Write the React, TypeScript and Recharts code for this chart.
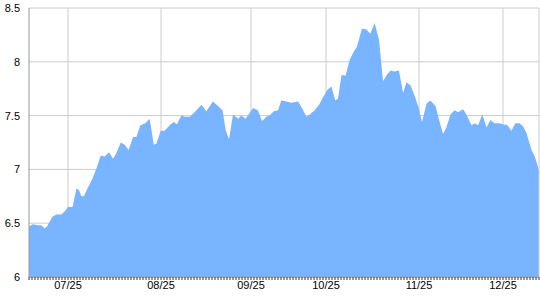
import { AreaChart, Area, XAxis, YAxis, CartesianGrid } from "recharts";

// day offset from the first sample (one minor tick per day)
const days = [
  0, 1.3, 3, 4.1, 5.2, 6, 7.8, 9.1, 10.8, 11.9, 13, 14.5, 15.8, 16.6, 17.5, 18.3, 19.3, 21.1, 22.5, 23.9,
  25.2, 26.7, 28, 29.1, 30.6, 31.9, 33.2, 34.7, 35.8, 37.1, 38.8, 40.2, 41.6, 42.5, 43.9, 45.2, 46.9, 48.2, 49.3, 50.8,
  51.9, 53.6, 55.2, 57.5, 59.1, 61.3, 63, 64.5, 65.6, 66.7, 68, 69.7, 70.8, 72.2, 74.7, 76.3, 77.7, 79.1, 80.2, 81.6,
  83, 84.1, 85.8, 87.5, 89.7, 90.8, 92.5, 93.6, 95.2, 96.7, 98.2, 99.5, 100.8, 102.1, 103, 104.2, 105.5, 106.9, 108.2, 109.3,
  111, 112.5, 113.8, 115.2, 116.7, 118, 119.3, 120.5, 121.9, 123.3, 124.7, 125.8, 127.2, 128.6, 129.9, 131, 132.5, 133.8, 135.5, 136.7,
  138, 139.1, 140.5, 141.9, 143, 144.7, 145.8, 147.5, 148.6, 149.7, 151.1, 152.5, 153.8, 155.2, 156.7, 158, 159.5, 160.8, 162.1, 163.5,
  164.7, 165.8, 167.5, 168.6, 170,
];

const prices = [
  6.47, 6.49, 6.48, 6.48, 6.45, 6.47, 6.56, 6.58, 6.58, 6.61, 6.65, 6.65, 6.82, 6.81, 6.75, 6.75, 6.81, 6.91, 7.01, 7.13,
  7.12, 7.16, 7.1, 7.15, 7.25, 7.23, 7.18, 7.3, 7.3, 7.41, 7.43, 7.47, 7.23, 7.24, 7.36, 7.36, 7.41, 7.44, 7.42, 7.5,
  7.49, 7.49, 7.53, 7.6, 7.54, 7.63, 7.59, 7.55, 7.36, 7.28, 7.51, 7.47, 7.5, 7.47, 7.57, 7.55, 7.45, 7.49, 7.5, 7.54,
  7.55, 7.64, 7.63, 7.62, 7.63, 7.58, 7.49, 7.51, 7.55, 7.6, 7.68, 7.74, 7.77, 7.64, 7.66, 7.88, 7.87, 8.02, 8.09, 8.14,
  8.31, 8.3, 8.26, 8.36, 8.2, 7.82, 7.88, 7.92, 7.91, 7.92, 7.71, 7.81, 7.78, 7.68, 7.57, 7.44, 7.61, 7.64, 7.59, 7.46,
  7.33, 7.39, 7.51, 7.55, 7.53, 7.56, 7.51, 7.41, 7.43, 7.41, 7.51, 7.39, 7.46, 7.43, 7.43, 7.42, 7.41, 7.36, 7.43, 7.43,
  7.4, 7.34, 7.18, 7.12, 6.99,
];

const labelDays = [13, 44, 74, 99, 130, 158];
const labels = ["07/25", "08/25", "09/25", "10/25", "11/25", "12/25"];
const yTicks = [6, 6.5, 7, 7.5, 8, 8.5];
const minorTicks = Array.from({ length: 171 }, (_, i) => i);

const data = days.map((day, i) => ({ day, price: prices[i] }));

const fontFamily = "'Liberation Sans', Arial, sans-serif";
const font = { fontSize: 11, fill: "#000", fontFamily };

// every day gets a small tick, only the 25th of each month gets a label
const DayTick = (props: any) => {
  const { x, y, payload } = props;
  const idx = labelDays.indexOf(payload.value);
  return (
    <g>
      <line x1={x} y1={y} x2={x} y2={y + 3} stroke="#333" />
      {idx >= 0 && (
        <text x={x} y={y + 4} dy="0.71em" textAnchor="middle" fontSize={11} fill="#000" fontFamily={fontFamily}>
          {labels[idx]}
        </text>
      )}
    </g>
  );
};

const gridX = ({ xAxis, offset }: any) =>
  labelDays.map((d) =>
    xAxis && typeof xAxis.scale === "function" ? xAxis.scale(d) : offset.left + (d / 170) * offset.width
  );

const App = () => {
  return (
    <div style={{ position: "absolute", left: 0, top: 0 }}>
      <AreaChart width={540} height={300} data={data} margin={{ top: 8, right: 0, bottom: 0, left: 0 }}>
        <CartesianGrid stroke="#cccccc" verticalCoordinatesGenerator={gridX} />
        <XAxis
          dataKey="day"
          type="number"
          domain={[0, 170]}
          ticks={minorTicks}
          interval={0}
          height={23}
          tickSize={0}
          tickMargin={0}
          tickLine={false}
          axisLine={{ stroke: "#999" }}
          tick={<DayTick />}
        />
        <YAxis
          domain={[6, 8.5]}
          ticks={yTicks}
          interval={0}
          width={29}
          tickLine={false}
          tickMargin={3}
          axisLine={{ stroke: "#999" }}
          tick={font}
        />
        <YAxis yAxisId="r" orientation="right" width={1} tick={false} tickLine={false} axisLine={{ stroke: "#ccc" }} />
        <Area
          type="linear"
          dataKey="price"
          stroke="none"
          fill="#78b4ff"
          fillOpacity={1}
          isAnimationActive={false}
        />
      </AreaChart>
    </div>
  );
};

export default App;
